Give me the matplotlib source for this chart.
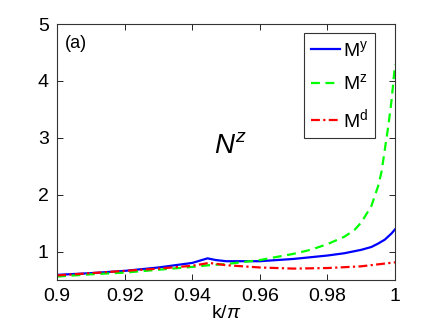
import numpy as np
import matplotlib
matplotlib.use("Agg")
import matplotlib.pyplot as plt

plt.rcParams['font.family'] = ['Liberation Sans', 'DejaVu Sans']
plt.rcParams['mathtext.fontset'] = 'custom'
plt.rcParams['mathtext.rm'] = 'Liberation Sans'
plt.rcParams['mathtext.it'] = 'Liberation Sans:italic'

# values
k_y = [0.90, 0.91, 0.92, 0.93, 0.94, 0.9445, 0.947, 0.95, 0.96, 0.97, 0.98, 0.985, 0.99,
       0.993, 0.995, 0.997, 0.999, 1.0]
m_y = [0.59, 0.62, 0.66, 0.72, 0.80, 0.88, 0.85, 0.83, 0.83, 0.87, 0.93, 0.97, 1.03,
       1.08, 1.14, 1.21, 1.32, 1.39]

k_z = [0.90, 0.91, 0.92, 0.93, 0.94, 0.945, 0.95, 0.96, 0.97, 0.975, 0.98, 0.985, 0.988,
       0.99, 0.993, 0.995, 0.996, 0.997, 0.998, 0.999, 1.0]
m_z = [0.56, 0.60, 0.63, 0.68, 0.73, 0.76, 0.78, 0.85, 0.96, 1.03, 1.13, 1.26, 1.38,
       1.51, 1.80, 2.15, 2.40, 2.80, 3.20, 3.67, 4.29]

k_d = [0.90, 0.91, 0.92, 0.93, 0.94, 0.945, 0.95, 0.96, 0.97, 0.98, 0.99, 1.0]
m_d = [0.58, 0.62, 0.66, 0.70, 0.75, 0.80, 0.76, 0.72, 0.70, 0.71, 0.74, 0.81]

xticks = [0.9, 0.92, 0.94, 0.96, 0.98, 1.0]
xticklabels = ["0.9", "0.92", "0.94", "0.96", "0.98", "1"]
yticks = [1, 2, 3, 4, 5]

fig = plt.figure(figsize=(4.36, 3.29), dpi=100)
ax = fig.add_axes([0.131, 0.149, 0.775, 0.778])

ax.plot(k_y, m_y, color="#0000ff", lw=1.6, ls="-", label=r"M$^{\mathrm{y}}$")
ax.plot(k_z, m_z, color="#00ff00", lw=1.6, ls=(0, (4, 2.5)), label=r"M$^{\mathrm{z}}$")
ax.plot(k_d, m_d, color="#ff0000", lw=1.6, ls=(0, (4, 1.5, 1, 1.5)), label=r"M$^{\mathrm{d}}$")

ax.set_xlim(0.9, 1.0)
ax.set_ylim(0.5, 5)
ax.set_xticks(xticks)
ax.set_xticklabels(xticklabels)
ax.set_yticks(yticks)
ax.tick_params(direction="in", top=True, right=True, labelsize=14, length=4, width=0.6, pad=6)
for s in ax.spines.values():
    s.set_linewidth(0.8)
    s.set_color("#333333")
ax.set_xlabel(r"k/$\pi$", fontsize=14, labelpad=0)

ax.text(0.9023, 4.65, "(a)", fontsize=13, va="center")
ax.text(0.9513, 2.85, r"$N^{z}$", fontsize=20, ha="center", va="center")

leg = ax.legend(loc="upper right", bbox_to_anchor=(0.941, 0.965), fontsize=14,
                handlelength=1.5, handletextpad=0.15, borderpad=0.35, labelspacing=0.7,
                fancybox=False, framealpha=1, edgecolor="#333333", borderaxespad=0)
leg.get_frame().set_linewidth(0.8)

fig.savefig("out.png", dpi=100)
